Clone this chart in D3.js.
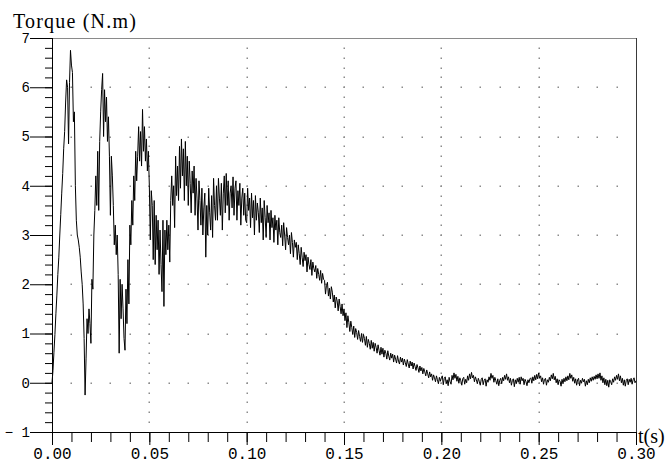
<!DOCTYPE html>
<html>
<head>
<meta charset="utf-8">
<script src="https://cdn.jsdelivr.net/npm/d3@7"></script>
<style>
  body { margin: 0; background: #fff; }
  svg { display: block; }
</style>
</head>
<body>
<svg id="chart" width="666" height="463"></svg>
<script>
// Sampling interval of the torque record, in seconds
const sampleStep = 0.0005;

// Motor torque (N.m), one value per sample starting at t = 0
const torque = [
  // 0.000 - 0.010 s
  0.00, 0.25, 0.62, 0.98, 1.40, 1.78, 2.20, 2.55, 3.00, 3.42,
  3.85, 4.25, 4.75, 5.10, 5.70, 6.15, 6.00, 4.85, 6.10, 6.75,
  // 0.010 - 0.020 s
  6.45, 6.30, 5.30, 5.50, 4.00, 3.30, 3.00, 2.90, 2.75, 2.55,
  2.25, 2.00, 1.60, 0.90, -0.25, 0.50, 1.30, 1.00, 1.50, 1.20,
  // 0.020 - 0.030 s
  0.80, 2.10, 1.90, 3.00, 3.50, 4.20, 3.60, 4.70, 3.50, 4.90,
  5.50, 5.95, 6.28, 5.00, 5.95, 5.30, 5.80, 4.90, 5.40, 4.60,
  // 0.030 - 0.040 s
  3.40, 4.60, 4.20, 3.60, 2.80, 3.20, 2.60, 3.00, 2.20, 0.60,
  2.10, 1.30, 2.00, 1.50, 0.90, 0.66, 1.90, 1.20, 2.50, 1.60,
  // 0.040 - 0.050 s
  3.20, 2.80, 3.70, 3.20, 4.20, 3.70, 4.70, 4.10, 4.60, 5.20,
  4.50, 5.10, 4.40, 5.55, 4.70, 5.20, 4.50, 4.95, 4.30, 4.70,
  // 0.050 - 0.060 s
  4.00, 2.90, 3.90, 3.60, 2.50, 3.70, 2.40, 3.40, 2.70, 3.30,
  2.20, 3.10, 2.40, 1.85, 3.30, 1.55, 3.10, 2.60, 3.30, 2.70,
  // 0.060 - 0.070 s
  3.20, 2.45, 3.70, 4.20, 3.60, 4.00, 3.15, 4.60, 3.80, 4.40,
  3.70, 4.80, 3.95, 4.95, 4.20, 4.75, 3.70, 4.90, 4.00, 4.60,
  // 0.070 - 0.080 s
  3.60, 4.50, 4.05, 3.45, 4.30, 3.85, 4.40, 3.40, 4.15, 3.75,
  3.10, 4.10, 3.70, 3.20, 3.95, 3.00, 3.55, 3.85, 2.55, 3.60,
  // 0.080 - 0.090 s
  3.00, 3.95, 3.45, 3.10, 3.80, 2.95, 4.15, 3.60, 3.30, 4.00,
  3.30, 4.15, 3.75, 3.40, 4.05, 3.10, 3.85, 4.20, 3.45, 4.25,
  // 0.090 - 0.100 s
  3.60, 4.10, 3.30, 3.85, 4.00, 3.55, 4.18, 3.40, 3.95, 4.10,
  3.30, 3.90, 3.60, 4.05, 3.20, 3.75, 3.95, 3.40, 3.85, 3.30,
  // 0.100 - 0.110 s
  3.25, 3.95, 3.50, 3.75, 3.15, 3.85, 3.35, 3.70, 3.00, 3.80,
  3.30, 3.65, 3.45, 3.05, 3.75, 3.25, 3.55, 2.90, 3.70, 3.35,
  // 0.110 - 0.120 s
  2.95, 3.60, 3.25, 3.45, 2.90, 3.50, 3.15, 3.35, 2.85, 3.40,
  3.10, 3.30, 2.80, 3.35, 3.05, 2.95, 3.20, 2.78, 3.25, 3.00,
  // 0.120 - 0.130 s
  2.70, 3.15, 2.95, 2.80, 3.00, 2.62, 3.05, 2.85, 2.55, 2.90,
  2.75, 2.85, 2.50, 2.80, 2.62, 2.40, 2.75, 2.55, 2.36, 2.65,
  // 0.130 - 0.140 s
  2.48, 2.60, 2.25, 2.55, 2.40, 2.30, 2.50, 2.18, 2.45, 2.32,
  2.25, 2.38, 2.12, 2.32, 2.20, 2.08, 2.28, 2.02, 2.22, 2.10,
  // 0.140 - 0.150 s
  2.08, 1.80, 1.98, 2.04, 1.76, 1.92, 1.70, 1.95, 1.84, 1.64,
  1.78, 1.52, 1.74, 1.66, 1.46, 1.70, 1.55, 1.40, 1.60, 1.36,
  // 0.150 - 0.160 s
  1.50, 1.26, 1.42, 1.12, 1.36, 1.22, 1.04, 1.25, 1.12, 0.98,
  1.15, 0.92, 1.10, 1.02, 0.88, 1.06, 0.94, 0.84, 1.00, 0.82,
  // 0.160 - 0.170 s
  0.98, 0.90, 0.76, 0.94, 0.72, 0.88, 0.80, 0.68, 0.86, 0.70,
  0.82, 0.64, 0.80, 0.72, 0.60, 0.77, 0.66, 0.56, 0.72, 0.58,
  // 0.170 - 0.180 s
  0.70, 0.52, 0.66, 0.60, 0.48, 0.65, 0.54, 0.46, 0.60, 0.50,
  0.58, 0.42, 0.56, 0.48, 0.40, 0.55, 0.44, 0.38, 0.52, 0.42,
  // 0.180 - 0.190 s
  0.50, 0.36, 0.48, 0.41, 0.33, 0.47, 0.38, 0.30, 0.44, 0.34,
  0.42, 0.28, 0.40, 0.33, 0.25, 0.37, 0.30, 0.21, 0.34, 0.24,
  // 0.190 - 0.200 s
  0.31, 0.18, 0.29, 0.22, 0.14, 0.26, 0.18, 0.10, 0.22, 0.12,
  0.18, 0.05, 0.16, 0.10, 0.02, 0.14, 0.06, -0.02, 0.11, 0.03,
  // 0.200 - 0.210 s
  0.10, 0.14, -0.04, 0.09, 0.12, -0.02, 0.06, -0.06, 0.11, 0.02,
  -0.03, 0.15, 0.06, 0.20, 0.09, 0.17, 0.03, 0.13, -0.01, 0.10,
  // 0.210 - 0.220 s
  0.04, -0.05, 0.08, 0.11, -0.03, 0.07, 0.00, 0.14, 0.05, 0.18,
  0.08, 0.21, 0.10, 0.15, 0.02, 0.12, 0.06, -0.02, 0.09, 0.03,
  // 0.220 - 0.230 s
  -0.05, 0.07, 0.10, -0.04, 0.05, 0.08, -0.07, 0.06, 0.01, 0.12,
  0.05, 0.19, 0.09, 0.15, 0.01, 0.11, 0.04, -0.03, 0.08, -0.06,
  // 0.230 - 0.240 s
  0.05, 0.09, -0.02, 0.11, 0.04, 0.15, 0.07, 0.18, 0.05, 0.12,
  0.00, 0.09, -0.05, 0.05, 0.08, -0.08, 0.06, -0.02, 0.09, 0.01,
  // 0.240 - 0.250 s
  0.11, -0.03, 0.12, 0.04, 0.09, -0.04, 0.07, 0.02, -0.06, 0.06,
  0.00, 0.08, 0.10, -0.01, 0.12, 0.04, 0.15, 0.06, 0.17, 0.08,
  // 0.250 - 0.260 s
  0.20, 0.09, 0.14, 0.02, 0.10, -0.03, 0.07, 0.09, -0.05, 0.06,
  0.01, 0.11, 0.04, 0.16, 0.08, 0.19, 0.06, 0.13, 0.00, 0.08,
  // 0.260 - 0.270 s
  -0.04, 0.06, 0.03, -0.07, 0.07, -0.02, 0.09, 0.02, 0.12, 0.04,
  0.14, 0.06, 0.19, 0.09, 0.16, 0.03, 0.11, -0.01, 0.08, -0.05,
  // 0.270 - 0.280 s
  0.06, 0.09, -0.06, 0.05, -0.01, 0.09, 0.02, 0.07, -0.07, 0.04,
  -0.04, 0.07, 0.00, 0.10, 0.03, 0.12, 0.05, 0.13, 0.07, 0.16,
  // 0.280 - 0.290 s
  0.08, 0.18, 0.09, 0.20, 0.05, 0.14, 0.00, 0.10, -0.04, 0.07,
  -0.06, 0.05, -0.09, 0.06, 0.02, -0.04, 0.08, 0.01, 0.12, 0.05,
  // 0.290 - 0.300 s
  0.15, 0.07, 0.18, 0.04, 0.14, 0.00, 0.09, -0.05, 0.06, -0.07,
  0.05, 0.08, -0.04, 0.07, 0.01, 0.09, -0.03, 0.06, 0.10, 0.00,
  0.04
];

// Axis ticks and their labels
const xMajorTicks = [0, 0.05, 0.10, 0.15, 0.20, 0.25, 0.30];
const xTickLabels = ["0.00", "0.05", "0.10", "0.15", "0.20", "0.25", "0.30"];
const xMinorTicks = d3.range(0, 31).map(k => k / 100);
const yMajorTicks = [-1, 0, 1, 2, 3, 4, 5, 6, 7];
const yTickLabels = ["\u2212 1", "0", "1", "2", "3", "4", "5", "6", "7"];
const yMinorTicks = d3.range(0, 41).map(k => -1 + k / 5);

// Dotted grid: horizontal lines at whole N.m, vertical lines every 0.05 s
const gridLevels = [0, 1, 2, 3, 4, 5, 6];
const gridTimes = [0.05, 0.10, 0.15, 0.20, 0.25];

const svg = d3.select("#chart");
const x = d3.scaleLinear().domain([0, 0.30]).range([52, 636]);
const y = d3.scaleLinear().domain([-1, 7]).range([432, 38]);

svg.append("rect").attr("width", 666).attr("height", 463).attr("fill", "#fff");

// Grid dots sit on the minor tick positions
const dots = [];
gridLevels.forEach(v => xMinorTicks.forEach(t => { if (t > 0 && t < 0.30) dots.push([t, v]); }));
gridTimes.forEach(t => yMinorTicks.forEach(v => { if (v > -1 && v < 7) dots.push([t, v]); }));
svg.append("g").selectAll("rect").data(dots).join("rect")
  .attr("x", d => Math.round(x(d[0])) - 0.5)
  .attr("y", d => Math.round(y(d[1])) - 0.5)
  .attr("width", 1.5).attr("height", 1.5)
  .attr("fill", "#8c8c8c");

// Frame on the top and right side of the plot
svg.append("line")
  .attr("x1", x(0)).attr("x2", x(0.30) + 1)
  .attr("y1", y(7) + 0.5).attr("y2", y(7) + 0.5)
  .attr("stroke", "#8a8a8a").attr("stroke-width", 1);
svg.append("line")
  .attr("x1", x(0.30) + 0.5).attr("x2", x(0.30) + 0.5)
  .attr("y1", y(7)).attr("y2", y(-1))
  .attr("stroke", "#3a3a3a").attr("stroke-width", 1);

// Torque trace
const line = d3.line()
  .x((d, i) => x(i * sampleStep))
  .y(d => y(d));
svg.append("path")
  .datum(torque)
  .attr("fill", "none")
  .attr("stroke", "#000")
  .attr("stroke-width", 1)
  .attr("d", line);

// X axis: minor then major ticks
const xAxisG = svg.append("g").attr("transform", `translate(0,${y(-1)})`);
xAxisG.append("g")
  .call(d3.axisBottom(x).tickValues(xMinorTicks).tickSize(10).tickSizeOuter(0).tickFormat(""))
  .call(g => g.select(".domain").remove());
xAxisG.append("g")
  .call(d3.axisBottom(x).tickValues(xMajorTicks).tickSize(13).tickSizeOuter(0)
    .tickPadding(3).tickFormat((d, i) => xTickLabels[i]))
  .call(g => g.select(".domain").remove())
  .call(g => g.selectAll("text")
    .attr("font-family", "'Liberation Mono', 'DejaVu Sans Mono', monospace")
    .attr("font-size", 16)
    .attr("fill", "#000"));
xAxisG.append("line")
  .attr("x1", 38).attr("x2", x(0.30) + 1)
  .attr("y1", 0.5).attr("y2", 0.5)
  .attr("stroke", "#000");

// Y axis: minor then major ticks
const yAxisG = svg.append("g").attr("transform", `translate(${x(0)},0)`);
yAxisG.append("g")
  .call(d3.axisLeft(y).tickValues(yMinorTicks).tickSize(7).tickSizeOuter(0).tickFormat(""))
  .call(g => g.select(".domain").remove());
yAxisG.append("g")
  .call(d3.axisLeft(y).tickValues(yMajorTicks).tickSize(22).tickSizeOuter(0)
    .tickPadding(0).tickFormat((d, i) => yTickLabels[i]))
  .call(g => g.select(".domain").remove())
  .call(g => g.selectAll("text")
    .attr("font-family", "'Liberation Mono', 'DejaVu Sans Mono', monospace")
    .attr("font-size", 14)
    .attr("fill", "#000"));
yAxisG.append("line")
  .attr("x1", 0.5).attr("x2", 0.5)
  .attr("y1", y(7)).attr("y2", y(-1) + 13)
  .attr("stroke", "#000");

// Axis titles
svg.append("text")
  .attr("x", 13).attr("y", 28)
  .attr("font-family", "'Liberation Serif', 'Times New Roman', serif")
  .attr("font-size", 20)
  .attr("letter-spacing", 1.2)
  .attr("fill", "#000")
  .text("Torque (N.m)");
svg.append("text")
  .attr("x", 638).attr("y", 443)
  .attr("font-family", "'Liberation Serif', 'Times New Roman', serif")
  .attr("font-size", 20)
  .attr("fill", "#000")
  .text("t(s)");
</script>
</body>
</html>
